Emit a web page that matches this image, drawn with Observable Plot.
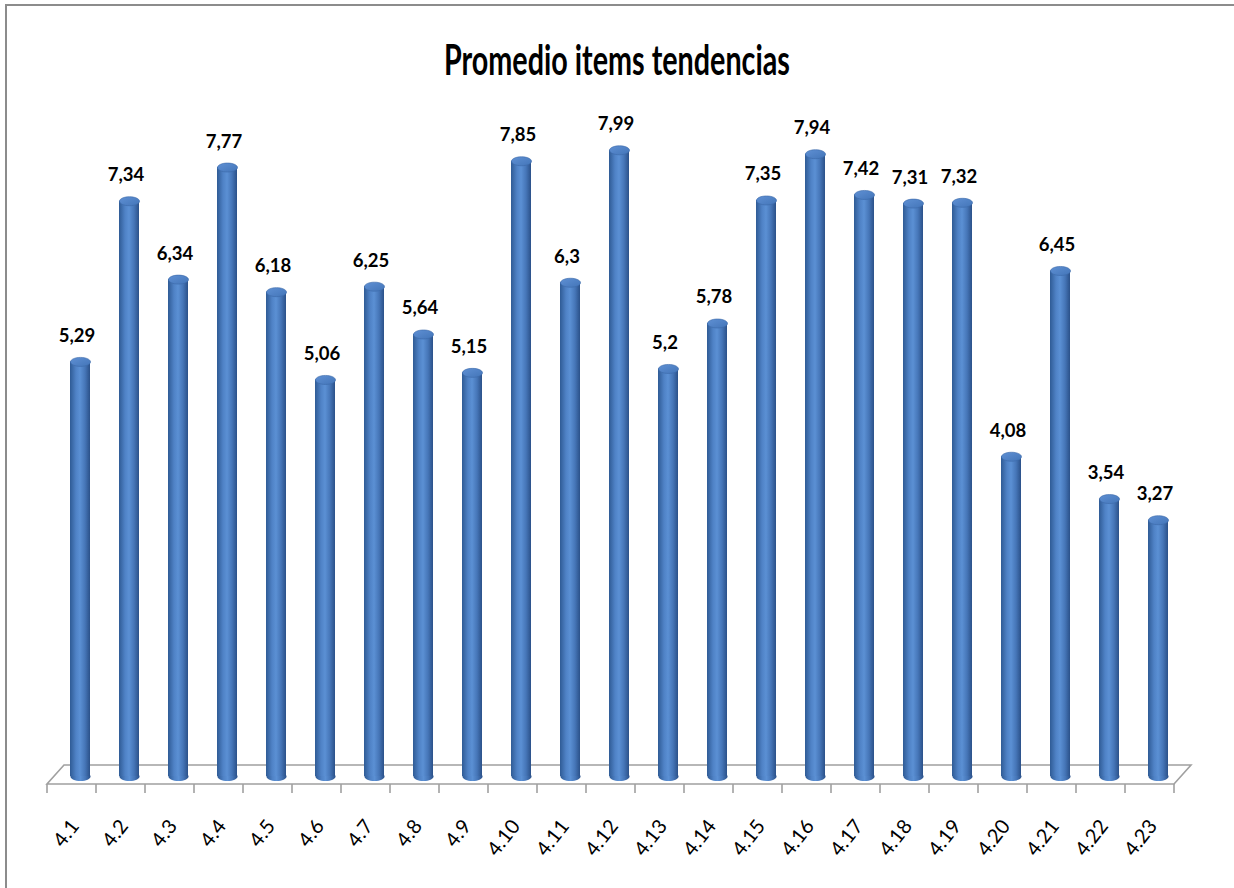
<!DOCTYPE html>
<html>
<head>
<meta charset="utf-8">
<script src="https://cdn.jsdelivr.net/npm/d3@7"></script>
<script src="https://cdn.jsdelivr.net/npm/@observablehq/plot@0.6"></script>
<style>
  html, body { margin: 0; padding: 0; background: #fff; overflow: hidden; }
  #page { position: relative; width: 1234px; height: 888px; }
  #frame { position: absolute; left: 5px; top: 4px; width: 1300px; height: 1000px;
           border: 2px solid #8c8c8c; box-sizing: border-box; pointer-events: none; }
  #title { position: absolute; left: 0; top: 0; width: 1234px; height: 100px;
           text-align: center; }
  #title span { display: inline-block; margin-top: 37px; font-family: Lato, "DejaVu Sans", sans-serif;
                font-weight: bold; font-size: 42px; line-height: 44px; color: #000;
                transform-origin: 50% 50%; }
  #chart { position: absolute; left: 0; top: 100px; }
</style>
</head>
<body>
<div id="page">
  <div id="title"><span>Promedio items tendencias</span></div>
  <div id="chart"></div>
  <div id="frame"></div>
</div>
<script>
// Item codes and their average scores
const items = ["4.1","4.2","4.3","4.4","4.5","4.6","4.7","4.8","4.9","4.10","4.11","4.12",
               "4.13","4.14","4.15","4.16","4.17","4.18","4.19","4.20","4.21","4.22","4.23"];
const values = [5.29, 7.34, 6.34, 7.77, 6.18, 5.06, 6.25, 5.64, 5.15, 7.85, 6.3, 7.99,
                5.2, 5.78, 7.35, 7.94, 7.42, 7.31, 7.32, 4.08, 6.45, 3.54, 3.27];

const data = items.map((item, i) => ({item, value: values[i]}));
const fmt = v => String(v).replace(".", ",");

// Narrow title, as in a compact chart heading
const titleSpan = document.querySelector("#title span");
titleSpan.style.transform = `scaleX(${346 / titleSpan.getBoundingClientRect().width})`;

// 3D look: cylinders are shifted back into the depth of the floor
const depthX = 17;
const shift = 8.5;
const labelFont = 'Lato, "DejaVu Sans", sans-serif';

// Ellipse symbol for cylinder caps (rx = r, ry = 0.45 r)
const ellipse = {
  draw(context, size) {
    const rx = Math.sqrt(size / Math.PI), ry = rx * 0.45, k = 0.5523;
    context.moveTo(rx, 0);
    context.bezierCurveTo(rx, ry * k, rx * k, ry, 0, ry);
    context.bezierCurveTo(-rx * k, ry, -rx, ry * k, -rx, 0);
    context.bezierCurveTo(-rx, -ry * k, -rx * k, -ry, 0, -ry);
    context.bezierCurveTo(rx * k, -ry, rx, -ry * k, rx, 0);
    context.closePath();
  }
};

// Gradients for the cylinder body and top cap
const gradients = () => {
  const defs = d3.create("svg:defs");
  const body = defs.append("linearGradient").attr("id", "cylBody")
    .attr("x1", 0).attr("x2", 1).attr("y1", 0).attr("y2", 0);
  [["0%", "#2f5b95"], ["30%", "#4f82c6"], ["50%", "#5b90d4"], ["75%", "#4676b8"], ["100%", "#2b5189"]]
    .forEach(([o, c]) => body.append("stop").attr("offset", o).attr("stop-color", c));
  const cap = defs.append("linearGradient").attr("id", "cylCap")
    .attr("x1", 0).attr("x2", 1).attr("y1", 0).attr("y2", 1);
  [["0%", "#5f90d4"], ["100%", "#4375b8"]]
    .forEach(([o, c]) => cap.append("stop").attr("offset", o).attr("stop-color", c));
  return defs.node();
};

// Floor plane and tick marks along its front edge
const floor = (index, scales, values, dimensions) => {
  const x = scales.x, y = scales.y;
  const x0 = x(items[0]);
  const step = x(items[1]) - x(items[0]);
  const x1 = x(items[items.length - 1]) + step;
  const y0 = y(0);
  const front = y0 + 8, back = y0 - 11;
  const g = d3.create("svg:g");
  g.append("path")
    .attr("d", `M${x0},${front}L${x1},${front}L${x1 + depthX},${back}L${x0 + depthX},${back}Z`)
    .attr("fill", "#fff").attr("stroke", "#a0a0a0").attr("stroke-width", 1.6);
  const edges = items.map(d => x(d)).concat([x1]);
  g.selectAll("line").data(edges).join("line")
    .attr("x1", d => d).attr("x2", d => d)
    .attr("y1", front).attr("y2", front + 9)
    .attr("stroke", "#a0a0a0").attr("stroke-width", 1.6);
  return g.node();
};

const chart = Plot.plot({
  width: 1234,
  height: 788,
  marginLeft: 47,
  marginRight: 60,
  marginTop: 49,
  marginBottom: 112,
  x: {type: "band", domain: items, paddingInner: 0, paddingOuter: 0},
  y: {domain: [0, 8], axis: null},
  style: {background: "transparent", overflow: "visible"},
  marks: [
    gradients,
    floor,
    // bottom cap
    Plot.dot(data, {x: "item", y: () => 0, r: 10, symbol: ellipse, fill: "url(#cylBody)", dx: shift}),
    // cylinder body
    Plot.barY(data, {x: "item", y: "value", fill: "url(#cylBody)", insetLeft: 14.5, insetRight: 14.5, dx: shift}),
    // top cap
    Plot.dot(data, {x: "item", y: "value", r: 10, symbol: ellipse, fill: "url(#cylCap)", stroke: "#3a68a8", strokeWidth: 0.6, dx: shift}),
    // value labels
    Plot.text(data, {x: "item", y: "value", text: d => fmt(d.value), dx: 5, dy: -20, lineAnchor: "bottom",
      fontSize: 18.5, fontWeight: "bold", fontFamily: labelFont, fill: "#000", letterSpacing: -0.8}),
    Plot.axisX({tickSize: 0, tickPadding: 46, tickRotate: -52, fontSize: 20, label: null, dx: 3,
      fontFamily: labelFont, fill: "#000"})
  ]
});
document.getElementById("chart").appendChild(chart);
</script>
</body>
</html>
